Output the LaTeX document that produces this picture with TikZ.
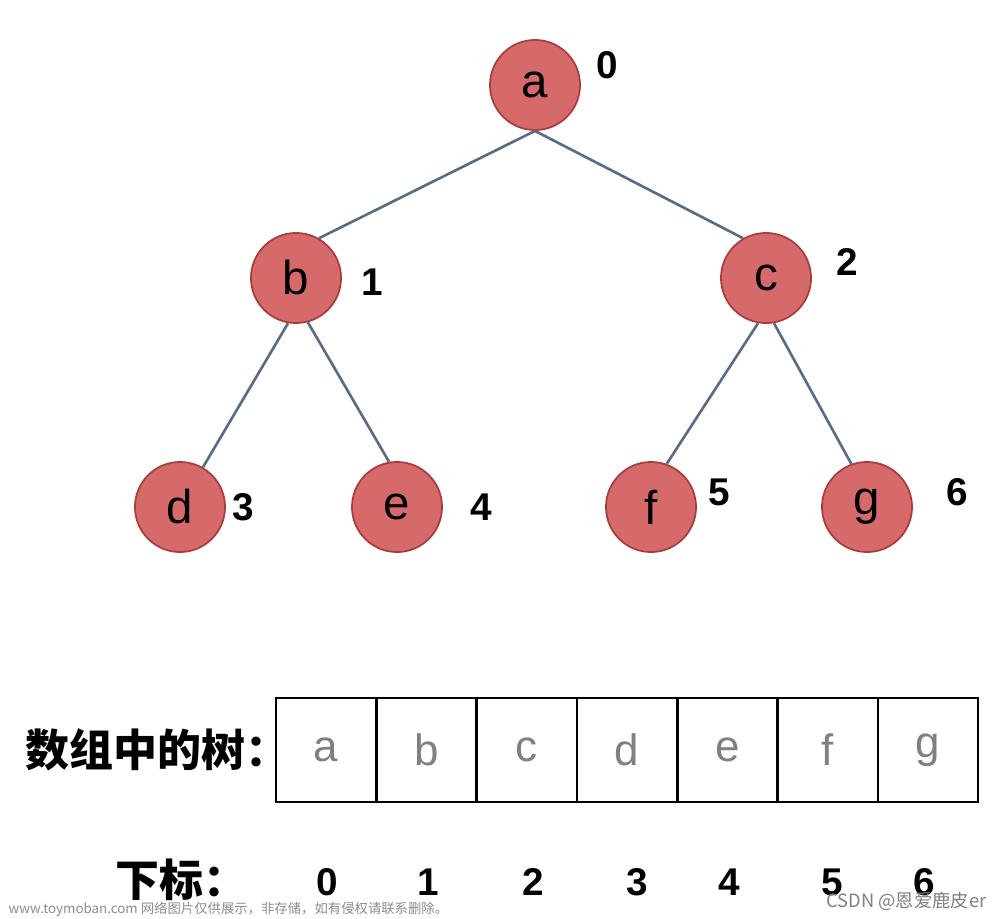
\documentclass[tikz,border=0pt]{standalone}
\usepackage{fontspec}
\setmainfont{Liberation Sans}
\newfontfamily\cjk{Noto Sans CJK SC}
\begin{document}
\begin{tikzpicture}[x=0.01cm,y=-0.01cm,
  tn/.style={circle,draw={rgb,255:red,170;green,60;blue,60},line width=0.5pt,fill={rgb,255:red,214;green,106;blue,106},minimum size=0.9cm,inner sep=0pt,font=\fontsize{13.5}{15}\selectfont},
  idx/.style={font=\fontsize{11}{12}\selectfont\bfseries},
  ed/.style={draw={rgb,255:red,88;green,108;blue,132},line width=0.75pt},
  cell/.style={draw,line width=0.7pt,minimum width=1.003cm,minimum height=1.04cm,inner sep=0pt,text=black!50,font=\fontsize{12.5}{14}\selectfont}]
\useasboundingbox (0,0) rectangle (1000,918);
\node[tn] (a) at (535,85) {a};
\node[tn] (b) at (296,278) {b};
\node[tn] (c) at (766,278) {c};
\node[tn] (d) at (180,507) {d};
\node[tn] (e) at (397,507) {e};
\node[tn] (f) at (651,507) {f};
\node[tn] (g) at (867,507) {g};
\node[idx] (l0) at (607,65) {0};
\node[idx] (l1) at (372,282) {1};
\node[idx] (l2) at (847,262) {2};
\node[idx] (l3) at (243,507) {3};
\node[idx] (l4) at (481,507) {4};
\node[idx] (l5) at (719,492) {5};
\node[idx] (l6) at (957,492) {6};
\draw[ed] (a.south) -- (b.60);
\draw[ed] (a.south) -- (c.120);
\draw[ed] (b.-100) -- (d.60);
\draw[ed] (b.-75) -- (e.100);
\draw[ed] (c.-100) -- (f.70);
\draw[ed] (c.-80) -- (g.110);
\foreach \l [count=\i from 0] in {a,b,c,d,e,f,g}{
  \node[cell] (k\i) at (326.2+100.3*\i,750) {\l};
}
\node[font=\cjk\fontsize{12.5}{14}\selectfont\bfseries,anchor=west,inner sep=0pt] (t1) at (25,750) {数组中的树：};
\node[font=\cjk\fontsize{12.5}{14}\selectfont\bfseries,anchor=west,inner sep=0pt] (t2) at (115,880) {下标：};
\foreach \n/\x in {0/327,1/428,2/533,3/637,4/729,5/832,6/924}{
  \node[idx] (i\n) at (\x,882) {\n};
}
\node[font=\cjk\fontsize{3.8}{4.5}\selectfont,text=black!45,anchor=west,inner sep=0pt] (w1) at (8,909) {www.toymoban.com 网络图片仅供展示，非存储，如有侵权请联系删除。};
\node[font=\cjk\fontsize{5.2}{6}\selectfont,text=black!50,anchor=east,inner sep=0pt] (w2) at (987,901) {CSDN @恩爱鹿皮er};
\end{tikzpicture}
\end{document}
